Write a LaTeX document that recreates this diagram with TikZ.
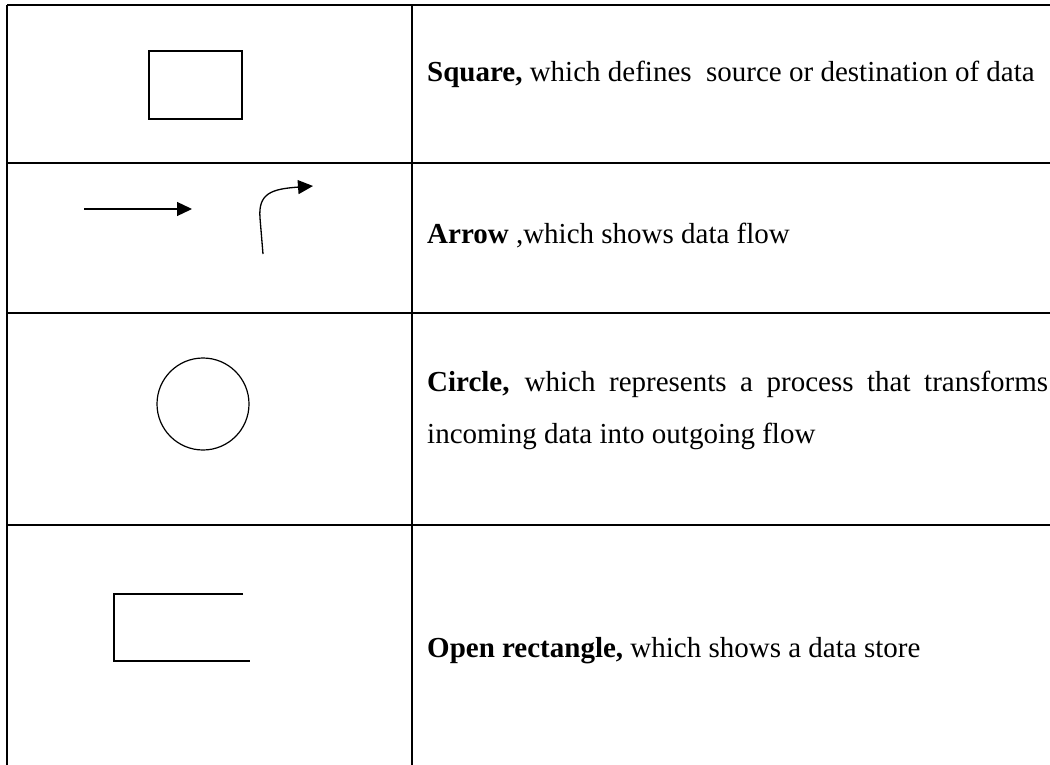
\documentclass[tikz,border=0pt]{standalone}
\usepackage{fontspec}
\setmainfont{Liberation Serif}
\usetikzlibrary{arrows.meta}
\begin{document}
\begin{tikzpicture}[x=1pt,y=-1pt,
  rule/.style={line width=1.8pt,black},
  midrule/.style={line width=1.5pt,black},
  thinrule/.style={line width=1.1pt,black},
  glyph/.style={line width=1.2pt,black},
  flow/.style={line width=1.3pt,-{Triangle[length=15pt,width=14pt]}},
  lbl/.style={anchor=base west,inner sep=0pt,font=\fontsize{29}{34}\selectfont}]
\useasboundingbox[fill=white] (0,0) rectangle (1050,765);
% table grid
\coordinate (tl) at (7,5);
\coordinate (tr) at (1050,5);
\coordinate (bl) at (7,765);
\coordinate (dt) at (412,5);
\coordinate (db) at (412,765);
\coordinate (r1l) at (7,163);
\coordinate (r1r) at (1050,163);
\coordinate (r2l) at (7,313);
\coordinate (r2r) at (1050,313);
\coordinate (r3l) at (7,525);
\coordinate (r3r) at (1050,525);
\draw[rule] (tl) -- (tr);
\draw[rule] (tl) -- (bl);
\draw[midrule] (dt) -- (db);
\draw[midrule] (r1l) -- (r1r);
\draw[midrule] (r2l) -- (r2r);
\draw[thinrule] (r3l) -- (r3r);
% square
\node[draw,glyph,rectangle,minimum width=93pt,minimum height=68pt,inner sep=0pt] (sq) at (195.5,85) {};
% arrows
\coordinate (a1s) at (84,209);
\coordinate (a1e) at (192,209);
\draw[flow] (a1s) -- (a1e);
\coordinate (a2s) at (263,254);
\coordinate (a2m) at (260,218);
\coordinate (a2e) at (313,186);
\draw[flow] (a2s) -- (a2m) .. controls (258,193) and (272,189) .. (a2e);
% circle
\node[draw,glyph,circle,minimum size=92pt,inner sep=0pt] (proc) at (203,404) {};
% open rectangle
\coordinate (st1) at (243,594);
\coordinate (st2) at (114,594);
\coordinate (st3) at (114,661);
\coordinate (st4) at (250,661);
\draw[glyph] (st1) -- (st2) -- (st3) -- (st4);
% texts
\node[lbl] (t1) at (427,82) {\textbf{Square,} which defines\ \ source or destination of data};
\node[lbl] (t2) at (427,243) {\textbf{Arrow} ,which shows data flow};
\node[lbl] (t3a) at (427,391) {\makebox[621pt][s]{\textbf{Circle,} which represents a process that transforms}};
\node[lbl] (t3b) at (427,443) {incoming data into outgoing flow};
\node[lbl] (t4) at (427,657) {\textbf{Open rectangle,} which shows a data store};
\end{tikzpicture}
\end{document}
